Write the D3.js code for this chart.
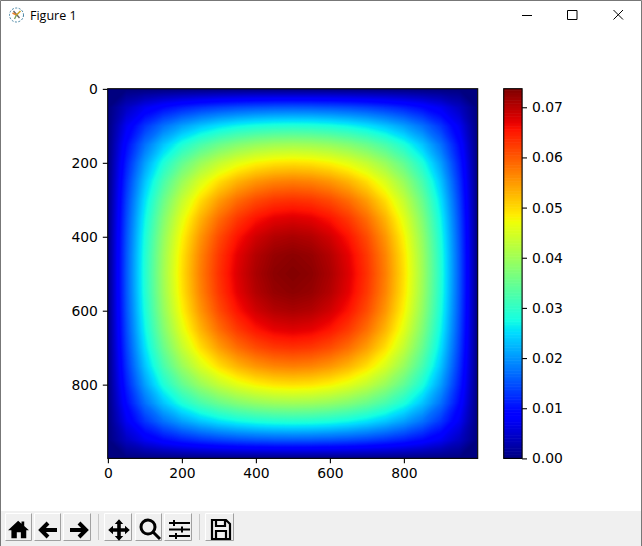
<!DOCTYPE html>
<html><head><meta charset="utf-8">
<script src="https://cdnjs.cloudflare.com/ajax/libs/d3/7.8.5/d3.min.js"></script>
<style>html,body{margin:0;padding:0;background:#fff}svg{display:block}
text{font-family:"DejaVu Sans",sans-serif;font-size:13.9px;fill:#000}</style>
</head><body><div id="c"></div>
<script>
const row000=[0,0,0,0,0,0,0,0,0,0,0];
const row050=[0,.00433,.00743,.00972,.01150,.01288,.01393,.01471,.01525,.01557,.01567];
const row100=[0,.00743,.01307,.01745,.02088,.02356,.02563,.02716,.02822,.02884,.02904];
const row150=[0,.00972,.01745,.02360,.02850,.03236,.03535,.03758,.03912,.04002,.04032];
const row200=[0,.01150,.02088,.02850,.03465,.03954,.04334,.04618,.04815,.04931,.04970];
const row250=[0,.01288,.02356,.03236,.03954,.04529,.04978,.05315,.05550,.05688,.05734];
const row300=[0,.01393,.02563,.03535,.04334,.04978,.05484,.05865,.06130,.06286,.06338];
const row350=[0,.01471,.02716,.03758,.04618,.05315,.05865,.06279,.06568,.06739,.06796];
const row400=[0,.01525,.02822,.03912,.04815,.05550,.06130,.06568,.06874,.07055,.07115];
const row450=[0,.01557,.02884,.04002,.04931,.05688,.06286,.06739,.07055,.07242,.07305];
const row500=[0,.01567,.02904,.04032,.04970,.05734,.06338,.06796,.07115,.07305,.07367];
const quadrant=[row000,row050,row100,row150,row200,row250,row300,row350,row400,row450,row500];
const sampleStep=50;
const axisTicks=[0,200,400,600,800];
const barTicks=[0,.01,.02,.03,.04,.05,.06,.07];
const vmax=.0737;
const title="Figure 1";

const W=642,H=546;
const svg=d3.select("#c").append("svg").attr("width",W).attr("height",H);

// jet colormap
const jr=d3.scaleLinear([0,.35,.66,.89,1],[0,0,1,1,.5]);
const jg=d3.scaleLinear([0,.125,.375,.64,.91,1],[0,0,1,1,0,0]);
const jb=d3.scaleLinear([0,.11,.34,.65,1],[.5,1,1,0,0]);
const jet=t=>d3.rgb(jr(t)*255,jg(t)*255,jb(t)*255).formatHex();
const colour=d3.scaleLinear().domain([0,vmax]).range([0,1]).clamp(true);
const fill=v=>jet(colour(v));

// scales
const x=d3.scaleLinear([-.5,999.5],[107.7,477.7]);
const y=d3.scaleLinear([-.5,999.5],[88.7,458.4]);
const cb=d3.scaleLinear([0,vmax],[458.4,88.7]);

// heatmap: 21×21 field from the quadrant, drawn as filled levels
const n=quadrant.length*2-1;
const field=[];
for(let j=0;j<n;j++){const r=quadrant[Math.min(j,n-1-j)];
  for(let i=0;i<n;i++)field.push(r[Math.min(i,n-1-i)]);}
const levels=d3.range(1,256).map(k=>k/256*vmax);
const contours=d3.contours().size([n,n]).thresholds(levels)(field);
const proj=d3.geoTransform({point(px,py){
  this.stream.point(x((px-.5)*sampleStep),y((py-.5)*sampleStep));}});
const path=d3.geoPath(proj);
svg.append("clipPath").attr("id","plot").append("rect")
  .attr("x",x(-.5)).attr("y",y(-.5)).attr("width",x(999.5)-x(-.5)).attr("height",y(999.5)-y(-.5));
const hm=svg.append("g").attr("clip-path","url(#plot)");
hm.append("rect").attr("x",x(-.5)).attr("y",y(-.5)).attr("width",x(999.5)-x(-.5)).attr("height",y(999.5)-y(-.5)).attr("fill",fill(0));
hm.selectAll("path").data(contours).join("path").attr("d",path).attr("fill",d=>fill(d.value));

function style(g){g.select(".domain").remove();
  g.selectAll("line").attr("stroke","#000").attr("stroke-width",1.1);
  g.selectAll("text").attr("fill","#000").style("font-family",'"DejaVu Sans"').style("font-size","13.9px");}
svg.append("g").attr("transform",`translate(0,${y(999.5)})`)
  .call(d3.axisBottom(x).tickValues(axisTicks).tickSize(4.9).tickPadding(4.9)).call(style);
svg.append("g").attr("transform",`translate(${x(-.5)},0)`)
  .call(d3.axisLeft(y).tickValues(axisTicks).tickSize(4.9).tickPadding(4.9)).call(style);
svg.append("rect").attr("x",x(-.5)).attr("y",y(-.5)).attr("width",x(999.5)-x(-.5)).attr("height",y(999.5)-y(-.5))
  .attr("fill","none").attr("stroke","#000").attr("stroke-width",1.1);

// colour bar
const cbL=503.7,cbW=18.4;
const steps=d3.range(256);
svg.append("g").selectAll("rect").data(steps).join("rect")
  .attr("x",cbL).attr("width",cbW)
  .attr("y",k=>cb((k+1)/256*vmax)).attr("height",k=>cb(k/256*vmax)-cb((k+1)/256*vmax)+.6)
  .attr("fill",k=>jet((k+.5)/256));
svg.append("g").attr("transform",`translate(${cbL+cbW},0)`)
  .call(d3.axisRight(cb).tickValues(barTicks).tickFormat(d3.format(".2f")).tickSize(4.9).tickPadding(4.9)).call(style);
svg.append("rect").attr("x",cbL).attr("y",cb(vmax)).attr("width",cbW).attr("height",cb(0)-cb(vmax))
  .attr("fill","none").attr("stroke","#000").attr("stroke-width",1.1);

// window chrome
const win=svg.append("g");
win.append("path").attr("d",`M.5 ${H}V.5H${W-.5}V${H}`).attr("fill","none").attr("stroke","#777");
win.append("text").attr("x",30).attr("y",20).style("font-family",'"Open Sans"').style("font-size","12.5px").text(title);
const ic=win.append("g").attr("transform","translate(16.5,15)");
ic.append("circle").attr("r",7).attr("fill","#fff").attr("stroke","#3f7f9f").attr("stroke-width",1).attr("stroke-dasharray","2 1.5");
ic.append("path").attr("d","M-3 -4L3 3").attr("stroke","#666").attr("stroke-width",1.4);
ic.append("path").attr("d","M-4 -2L0 0").attr("stroke","#e8832a").attr("stroke-width",1.8);
ic.append("path").attr("d","M0 0L4 -4").attr("stroke","#c9a227").attr("stroke-width",1.6);
ic.append("path").attr("d","M0 0L-2 4").attr("stroke","#7aa05a").attr("stroke-width",1.4);
win.append("path").attr("d","M522 15.5H532M567.5 10.5H577V19.5H567.5ZM613.5 10L623 19.5M623 10L613.5 19.5")
  .attr("fill","none").attr("stroke","#000").attr("stroke-width",1);

// toolbar
const bar=svg.append("g");
bar.append("rect").attr("x",1).attr("y",511).attr("width",W-2).attr("height",35).attr("fill","#f0f0f0");
const buttons=[
 {x:5,w:27,t:"translate(1,5) scale(1.35)",d:"M9 2L1.5 9H4V15H8V10.5H11V15H15V9H17L13.5 6V2.5H11.5V4.2Z",stroke:0},
 {x:34,w:27,t:"translate(5,8.5)",d:"M9 1.5L2 8.5L9 15.5M3 8.5H18",stroke:4},
 {x:63,w:28,t:"translate(5,8.5)",d:"M11 1.5L18 8.5L11 15.5M17 8.5H2",stroke:4},
 {x:104,w:28,t:"translate(3.6,6.2) scale(1.2)",d:"M9.5 0L13 4H11V7.5H14.5V5.5L18.5 9L14.5 12.5V10.5H11V14H13L9.5 18L6 14H8V10.5H4.5V12.5L.5 9L4.5 5.5V7.5H8V4H6Z",stroke:0},
 {x:135,w:27,t:"",d:"M6 14A7 7 0 1 1 20 14A7 7 0 1 1 6 14M18 19L25 26",stroke:3},
 {x:164,w:28,t:"",d:"M5 10H26M5 16.5H26M5 23H26M10 7V13M18 13.5V19.5M12 20V26",stroke:2},
 {x:205,w:29,t:"",d:"M7 7H21L25 11V26H7ZM11 7.5V13H20V7.5M11 26V18H21V26",stroke:2.2}
];
const by=513,bh=28;
const btn=bar.selectAll("g").data(buttons).join("g").attr("transform",d=>`translate(${d.x},${by})`);
btn.append("rect").attr("width",d=>d.w).attr("height",bh).attr("fill","#f0f0f0");
btn.append("path").attr("d",d=>`M.5 ${bh-.5}V.5H${d.w-.5}`).attr("fill","none").attr("stroke","#fff");
btn.append("path").attr("d",d=>`M.5 ${bh-.5}H${d.w-.5}V.5`).attr("fill","none").attr("stroke","#a0a0a0");
btn.append("path").attr("d",d=>d.d).attr("transform",d=>d.t)
  .attr("fill",d=>d.stroke?"none":"#000").attr("stroke",d=>d.stroke?"#000":"none").attr("stroke-width",d=>d.stroke);
bar.append("path").attr("d","M98.5 514V540M199.5 514V540").attr("stroke","#c8c8c8");
</script></body></html>
